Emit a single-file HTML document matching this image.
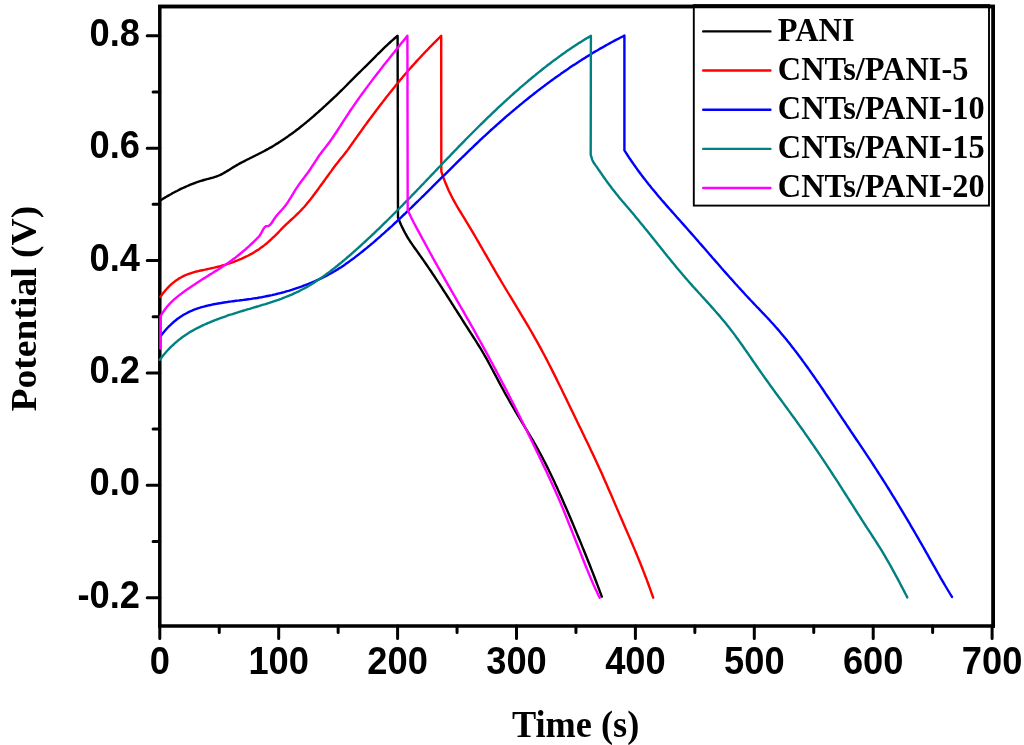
<!DOCTYPE html>
<html><head><meta charset="utf-8"><title>Charge-discharge curves</title>
<style>html,body{margin:0;padding:0;background:#fff;width:1024px;height:745px;overflow:hidden}svg{display:block;will-change:transform}</style>
</head><body>
<svg width="1024" height="745" viewBox="0 0 1024 745"><path d="M159.8 625.9 V6.4 H993.2 V625.9 H159.8" fill="none" stroke="#000" stroke-width="3.5" stroke-linejoin="miter" stroke-linecap="square"/>
<path d="M159.80 625.9 v12.6 M219.25 625.9 v6.7 M278.70 625.9 v12.6 M338.15 625.9 v6.7 M397.60 625.9 v12.6 M457.05 625.9 v6.7 M516.50 625.9 v12.6 M575.95 625.9 v6.7 M635.40 625.9 v12.6 M694.85 625.9 v6.7 M754.30 625.9 v12.6 M813.75 625.9 v6.7 M873.20 625.9 v12.6 M932.65 625.9 v6.7 M992.10 625.9 v12.6 M159.8 597.68 h-12.6 M159.8 541.49 h-6.7 M159.8 485.30 h-12.6 M159.8 429.11 h-6.7 M159.8 372.92 h-12.6 M159.8 316.73 h-6.7 M159.8 260.54 h-12.6 M159.8 204.35 h-6.7 M159.8 148.16 h-12.6 M159.8 91.97 h-6.7 M159.8 35.78 h-12.6" stroke="#000" stroke-width="3" stroke-linecap="round" fill="none"/>
<g font-family="Liberation Sans, sans-serif" font-weight="bold" font-size="38.2" fill="#000"><text transform="translate(159.80,674.1) scale(0.95,1)" text-anchor="middle">0</text><text transform="translate(278.70,674.1) scale(0.95,1)" text-anchor="middle">100</text><text transform="translate(397.60,674.1) scale(0.95,1)" text-anchor="middle">200</text><text transform="translate(516.50,674.1) scale(0.95,1)" text-anchor="middle">300</text><text transform="translate(635.40,674.1) scale(0.95,1)" text-anchor="middle">400</text><text transform="translate(754.30,674.1) scale(0.95,1)" text-anchor="middle">500</text><text transform="translate(873.20,674.1) scale(0.95,1)" text-anchor="middle">600</text><text transform="translate(992.10,674.1) scale(0.95,1)" text-anchor="middle">700</text><text transform="translate(140.0,607.68) scale(0.95,1)" text-anchor="end">-0.2</text><text transform="translate(140.0,495.30) scale(0.95,1)" text-anchor="end">0.0</text><text transform="translate(140.0,382.92) scale(0.95,1)" text-anchor="end">0.2</text><text transform="translate(140.0,270.54) scale(0.95,1)" text-anchor="end">0.4</text><text transform="translate(140.0,158.16) scale(0.95,1)" text-anchor="end">0.6</text><text transform="translate(140.0,45.78) scale(0.95,1)" text-anchor="end">0.8</text></g>
<text transform="translate(575.6,736.6) scale(0.955,1)" text-anchor="middle" font-family="Liberation Serif, serif" font-weight="bold" font-size="38">Time (s)</text>
<text transform="translate(35.8,308.6) rotate(-90) scale(1,0.98)" text-anchor="middle" font-family="Liberation Serif, serif" font-weight="bold" font-size="37.6">Potential (V)</text>
<path d="M160.4 200.4 L161.9 199.5 L163.4 198.5 L164.9 197.6 L166.4 196.8 L167.9 195.9 L169.4 195.0 L170.9 194.2 L172.4 193.3 L173.9 192.5 L175.4 191.7 L176.9 191.0 L178.4 190.2 L179.9 189.4 L181.4 188.7 L182.9 188.0 L184.4 187.3 L185.9 186.6 L187.4 186.0 L188.9 185.3 L190.4 184.7 L191.9 184.1 L193.4 183.5 L194.9 183.0 L196.4 182.4 L197.9 181.9 L199.4 181.4 L200.9 180.9 L202.4 180.5 L203.9 180.0 L205.4 179.6 L206.9 179.2 L208.4 178.8 L209.9 178.4 L211.4 178.0 L212.9 177.6 L214.4 177.1 L215.9 176.7 L217.4 176.1 L218.9 175.5 L220.4 174.9 L221.9 174.1 L223.4 173.3 L224.9 172.4 L226.4 171.5 L227.9 170.6 L229.4 169.7 L230.9 168.7 L232.4 167.8 L233.9 166.9 L235.4 166.0 L236.9 165.1 L238.4 164.3 L239.9 163.4 L241.4 162.6 L242.9 161.8 L244.4 161.1 L245.9 160.3 L247.4 159.5 L248.9 158.8 L250.4 158.0 L251.9 157.3 L253.4 156.5 L254.9 155.8 L256.4 155.0 L257.9 154.3 L259.4 153.5 L260.9 152.8 L262.4 152.0 L263.9 151.2 L265.4 150.4 L266.9 149.6 L268.4 148.8 L269.9 147.9 L271.4 147.1 L272.9 146.2 L274.4 145.3 L275.9 144.3 L277.4 143.4 L278.9 142.4 L280.4 141.5 L281.9 140.5 L283.4 139.5 L284.9 138.5 L286.4 137.4 L287.9 136.4 L289.4 135.3 L290.9 134.3 L292.4 133.2 L293.9 132.1 L295.4 131.0 L296.9 129.8 L298.4 128.7 L299.9 127.5 L301.4 126.3 L302.9 125.1 L304.4 123.9 L305.9 122.7 L307.4 121.4 L308.9 120.2 L310.4 118.9 L311.9 117.6 L313.4 116.3 L314.9 115.0 L316.4 113.7 L317.9 112.4 L319.4 111.0 L320.9 109.7 L322.4 108.3 L323.9 106.9 L325.4 105.6 L326.9 104.2 L328.4 102.8 L329.9 101.4 L331.4 100.0 L332.9 98.6 L334.4 97.2 L335.9 95.8 L337.4 94.3 L338.9 92.9 L340.4 91.4 L341.9 90.0 L343.4 88.5 L344.9 87.0 L346.4 85.5 L347.9 83.9 L349.4 82.4 L350.9 80.9 L352.4 79.4 L353.9 77.9 L355.4 76.4 L356.9 74.9 L358.4 73.4 L359.9 72.0 L361.4 70.5 L362.9 69.0 L364.4 67.5 L365.9 66.1 L367.4 64.6 L368.9 63.1 L370.4 61.6 L371.9 60.1 L373.4 58.6 L374.9 57.1 L376.4 55.5 L377.9 54.0 L379.4 52.6 L380.9 51.1 L382.4 49.6 L383.9 48.1 L385.4 46.7 L386.9 45.3 L388.4 43.9 L389.9 42.5 L391.4 41.1 L392.9 39.8 L394.4 38.5 L395.9 37.2 L397.4 36.0 L397.6 35.8 L398.0 217.5 L399.5 221.2 L401.0 224.7 L402.5 227.9 L404.0 230.9 L405.5 233.7 L407.0 236.3 L408.5 238.8 L410.0 241.2 L411.5 243.4 L413.0 245.6 L414.5 247.7 L416.0 249.8 L417.5 251.9 L419.0 254.0 L420.5 256.1 L422.0 258.2 L423.5 260.4 L425.0 262.5 L426.5 264.7 L428.0 266.9 L429.5 269.1 L431.0 271.3 L432.5 273.6 L434.0 275.8 L435.5 278.1 L437.0 280.4 L438.5 282.6 L440.0 284.9 L441.5 287.2 L443.0 289.6 L444.5 291.9 L446.0 294.2 L447.5 296.5 L449.0 298.9 L450.5 301.2 L452.0 303.6 L453.5 305.9 L455.0 308.3 L456.5 310.7 L458.0 313.0 L459.5 315.4 L461.0 317.7 L462.5 320.1 L464.0 322.5 L465.5 324.8 L467.0 327.2 L468.5 329.5 L470.0 331.8 L471.5 334.2 L473.0 336.5 L474.5 338.9 L476.0 341.2 L477.5 343.6 L479.0 346.0 L480.5 348.4 L482.0 350.9 L483.5 353.5 L485.0 356.1 L486.5 358.7 L488.0 361.4 L489.5 364.2 L491.0 367.0 L492.5 369.8 L494.0 372.6 L495.5 375.4 L497.0 378.3 L498.5 381.1 L500.0 383.9 L501.5 386.7 L503.0 389.4 L504.5 392.2 L506.0 394.9 L507.5 397.5 L509.0 400.2 L510.5 402.8 L512.0 405.4 L513.5 408.0 L515.0 410.6 L516.5 413.1 L518.0 415.6 L519.5 418.1 L521.0 420.6 L522.5 423.1 L524.0 425.6 L525.5 428.1 L527.0 430.6 L528.5 433.1 L530.0 435.6 L531.5 438.1 L533.0 440.7 L534.5 443.3 L536.0 445.9 L537.5 448.6 L539.0 451.3 L540.5 454.0 L542.0 456.8 L543.5 459.7 L545.0 462.6 L546.5 465.6 L548.0 468.6 L549.5 471.7 L551.0 474.8 L552.5 477.9 L554.0 481.1 L555.5 484.4 L557.0 487.6 L558.5 490.9 L560.0 494.3 L561.5 497.6 L563.0 501.0 L564.5 504.4 L566.0 507.8 L567.5 511.3 L569.0 514.8 L570.5 518.3 L572.0 521.8 L573.5 525.4 L575.0 529.0 L576.5 532.6 L578.0 536.2 L579.5 539.8 L581.0 543.4 L582.5 547.1 L584.0 550.8 L585.5 554.5 L587.0 558.2 L588.5 562.0 L590.0 565.8 L591.5 569.6 L593.0 573.4 L594.5 577.3 L596.0 581.2 L597.5 585.2 L599.0 589.1 L600.5 593.2 L601.8 596.7" fill="none" stroke="#000000" stroke-width="2.4" stroke-linejoin="round" stroke-linecap="round"/>
<path d="M160.4 296.8 L161.9 294.7 L163.4 292.8 L164.9 291.0 L166.4 289.2 L167.9 287.6 L169.4 286.1 L170.9 284.7 L172.4 283.4 L173.9 282.1 L175.4 281.0 L176.9 279.9 L178.4 278.9 L179.9 278.0 L181.4 277.2 L182.9 276.4 L184.4 275.7 L185.9 275.0 L187.4 274.4 L188.9 273.8 L190.4 273.3 L191.9 272.8 L193.4 272.3 L194.9 271.9 L196.4 271.5 L197.9 271.2 L199.4 270.8 L200.9 270.5 L202.4 270.2 L203.9 269.9 L205.4 269.6 L206.9 269.2 L208.4 268.9 L209.9 268.6 L211.4 268.3 L212.9 267.9 L214.4 267.6 L215.9 267.2 L217.4 266.8 L218.9 266.5 L220.4 266.1 L221.9 265.6 L223.4 265.2 L224.9 264.8 L226.4 264.3 L227.9 263.9 L229.4 263.4 L230.9 262.9 L232.4 262.3 L233.9 261.8 L235.4 261.2 L236.9 260.7 L238.4 260.0 L239.9 259.4 L241.4 258.8 L242.9 258.1 L244.4 257.4 L245.9 256.7 L247.4 256.0 L248.9 255.2 L250.4 254.4 L251.9 253.6 L253.4 252.7 L254.9 251.8 L256.4 250.8 L257.9 249.9 L259.4 248.9 L260.9 247.8 L262.4 246.7 L263.9 245.6 L265.4 244.4 L266.9 243.2 L268.4 241.9 L269.9 240.5 L271.4 239.2 L272.9 237.7 L274.4 236.3 L275.9 234.8 L277.4 233.3 L278.9 231.8 L280.4 230.2 L281.9 228.7 L283.4 227.2 L284.9 225.7 L286.4 224.2 L287.9 222.8 L289.4 221.4 L290.9 220.0 L292.4 218.6 L293.9 217.3 L295.4 215.9 L296.9 214.4 L298.4 213.0 L299.9 211.5 L301.4 209.9 L302.9 208.3 L304.4 206.7 L305.9 204.9 L307.4 203.1 L308.9 201.3 L310.4 199.4 L311.9 197.5 L313.4 195.5 L314.9 193.5 L316.4 191.5 L317.9 189.5 L319.4 187.4 L320.9 185.3 L322.4 183.3 L323.9 181.2 L325.4 179.1 L326.9 177.0 L328.4 175.0 L329.9 172.9 L331.4 170.9 L332.9 168.8 L334.4 166.8 L335.9 164.8 L337.4 162.9 L338.9 161.0 L340.4 159.1 L341.9 157.2 L343.4 155.4 L344.9 153.5 L346.4 151.6 L347.9 149.6 L349.4 147.5 L350.9 145.4 L352.4 143.3 L353.9 141.1 L355.4 139.0 L356.9 136.9 L358.4 134.8 L359.9 132.7 L361.4 130.6 L362.9 128.5 L364.4 126.4 L365.9 124.4 L367.4 122.3 L368.9 120.3 L370.4 118.3 L371.9 116.2 L373.4 114.2 L374.9 112.2 L376.4 110.2 L377.9 108.3 L379.4 106.3 L380.9 104.3 L382.4 102.4 L383.9 100.4 L385.4 98.5 L386.9 96.6 L388.4 94.7 L389.9 92.8 L391.4 90.9 L392.9 89.0 L394.4 87.2 L395.9 85.3 L397.4 83.5 L398.9 81.7 L400.4 79.8 L401.9 78.1 L403.4 76.3 L404.9 74.5 L406.4 72.8 L407.9 71.0 L409.4 69.3 L410.9 67.6 L412.4 65.9 L413.9 64.2 L415.4 62.6 L416.9 60.9 L418.4 59.3 L419.9 57.7 L421.4 56.1 L422.9 54.5 L424.4 52.9 L425.9 51.3 L427.4 49.8 L428.9 48.2 L430.4 46.7 L431.9 45.1 L433.4 43.6 L434.9 42.1 L436.4 40.6 L437.9 39.1 L439.4 37.6 L440.9 36.1 L441.2 35.8 L441.3 171.3 L442.8 175.8 L444.3 179.9 L445.8 183.7 L447.3 187.3 L448.8 190.7 L450.3 193.8 L451.8 196.8 L453.3 199.7 L454.8 202.4 L456.3 205.0 L457.8 207.6 L459.3 210.1 L460.8 212.5 L462.3 215.0 L463.8 217.4 L465.3 219.8 L466.8 222.3 L468.3 224.8 L469.8 227.3 L471.3 229.8 L472.8 232.4 L474.3 234.9 L475.8 237.5 L477.3 240.1 L478.8 242.7 L480.3 245.3 L481.8 247.9 L483.3 250.5 L484.8 253.1 L486.3 255.7 L487.8 258.3 L489.3 260.9 L490.8 263.5 L492.3 266.1 L493.8 268.7 L495.3 271.3 L496.8 273.8 L498.3 276.4 L499.8 278.9 L501.3 281.5 L502.8 284.0 L504.3 286.5 L505.8 289.0 L507.3 291.5 L508.8 294.0 L510.3 296.4 L511.8 298.9 L513.3 301.4 L514.8 303.9 L516.3 306.3 L517.8 308.8 L519.3 311.3 L520.8 313.8 L522.3 316.3 L523.8 318.8 L525.3 321.3 L526.8 323.8 L528.3 326.4 L529.8 329.0 L531.3 331.5 L532.8 334.2 L534.3 336.8 L535.8 339.5 L537.3 342.1 L538.8 344.8 L540.3 347.6 L541.8 350.4 L543.3 353.2 L544.8 356.0 L546.3 358.9 L547.8 361.8 L549.3 364.7 L550.8 367.6 L552.3 370.6 L553.8 373.6 L555.3 376.6 L556.8 379.6 L558.3 382.7 L559.8 385.7 L561.3 388.8 L562.8 391.9 L564.3 395.0 L565.8 398.1 L567.3 401.2 L568.8 404.3 L570.3 407.4 L571.8 410.5 L573.3 413.6 L574.8 416.7 L576.3 419.8 L577.8 422.9 L579.3 426.0 L580.8 429.1 L582.3 432.2 L583.8 435.3 L585.3 438.4 L586.8 441.5 L588.3 444.6 L589.8 447.7 L591.3 450.9 L592.8 454.1 L594.3 457.3 L595.8 460.5 L597.3 463.7 L598.8 467.0 L600.3 470.3 L601.8 473.6 L603.3 477.0 L604.8 480.4 L606.3 483.8 L607.8 487.2 L609.3 490.7 L610.8 494.1 L612.3 497.6 L613.8 501.1 L615.3 504.6 L616.8 508.1 L618.3 511.6 L619.8 515.1 L621.3 518.5 L622.8 522.0 L624.3 525.5 L625.8 528.9 L627.3 532.4 L628.8 535.9 L630.3 539.3 L631.8 542.8 L633.3 546.4 L634.8 549.9 L636.3 553.5 L637.8 557.1 L639.3 560.8 L640.8 564.5 L642.3 568.3 L643.8 572.1 L645.3 576.0 L646.8 579.9 L648.3 584.0 L649.8 588.1 L651.3 592.3 L652.8 596.5 L653.2 597.7" fill="none" stroke="#ff0000" stroke-width="2.4" stroke-linejoin="round" stroke-linecap="round"/>
<path d="M161.1 335.4 L162.6 333.5 L164.1 331.7 L165.6 330.0 L167.1 328.3 L168.6 326.7 L170.1 325.3 L171.6 323.8 L173.1 322.5 L174.6 321.2 L176.1 320.0 L177.6 318.8 L179.1 317.8 L180.6 316.7 L182.1 315.8 L183.6 314.8 L185.1 314.0 L186.6 313.2 L188.1 312.4 L189.6 311.7 L191.1 311.0 L192.6 310.3 L194.1 309.7 L195.6 309.2 L197.1 308.6 L198.6 308.1 L200.1 307.7 L201.6 307.2 L203.1 306.8 L204.6 306.4 L206.1 306.0 L207.6 305.6 L209.1 305.3 L210.6 305.0 L212.1 304.6 L213.6 304.3 L215.1 304.0 L216.6 303.8 L218.1 303.5 L219.6 303.2 L221.1 303.0 L222.6 302.7 L224.1 302.5 L225.6 302.3 L227.1 302.1 L228.6 301.8 L230.1 301.6 L231.6 301.4 L233.1 301.2 L234.6 301.0 L236.1 300.8 L237.6 300.6 L239.1 300.5 L240.6 300.3 L242.1 300.1 L243.6 299.9 L245.1 299.7 L246.6 299.5 L248.1 299.3 L249.6 299.1 L251.1 298.9 L252.6 298.6 L254.1 298.4 L255.6 298.2 L257.1 298.0 L258.6 297.7 L260.1 297.4 L261.6 297.2 L263.1 296.9 L264.6 296.6 L266.1 296.3 L267.6 296.0 L269.1 295.7 L270.6 295.4 L272.1 295.1 L273.6 294.7 L275.1 294.4 L276.6 294.0 L278.1 293.6 L279.6 293.3 L281.1 292.9 L282.6 292.5 L284.1 292.1 L285.6 291.6 L287.1 291.2 L288.6 290.8 L290.1 290.3 L291.6 289.9 L293.1 289.4 L294.6 288.9 L296.1 288.4 L297.6 287.9 L299.1 287.4 L300.6 286.8 L302.1 286.3 L303.6 285.7 L305.1 285.2 L306.6 284.6 L308.1 284.0 L309.6 283.4 L311.1 282.8 L312.6 282.2 L314.1 281.5 L315.6 280.9 L317.1 280.2 L318.6 279.5 L320.1 278.8 L321.6 278.1 L323.1 277.4 L324.6 276.6 L326.1 275.9 L327.6 275.1 L329.1 274.3 L330.6 273.5 L332.1 272.6 L333.6 271.8 L335.1 270.9 L336.6 270.0 L338.1 269.1 L339.6 268.1 L341.1 267.2 L342.6 266.2 L344.1 265.2 L345.6 264.1 L347.1 263.1 L348.6 262.0 L350.1 260.9 L351.6 259.8 L353.1 258.7 L354.6 257.6 L356.1 256.4 L357.6 255.3 L359.1 254.1 L360.6 252.9 L362.1 251.7 L363.6 250.5 L365.1 249.3 L366.6 248.1 L368.1 246.8 L369.6 245.6 L371.1 244.3 L372.6 243.1 L374.1 241.8 L375.6 240.5 L377.1 239.2 L378.6 237.9 L380.1 236.6 L381.6 235.2 L383.1 233.9 L384.6 232.6 L386.1 231.2 L387.6 229.9 L389.1 228.5 L390.6 227.1 L392.1 225.8 L393.6 224.4 L395.1 223.0 L396.6 221.6 L398.1 220.2 L399.6 218.8 L401.1 217.4 L402.6 215.9 L404.1 214.5 L405.6 213.1 L407.1 211.6 L408.6 210.2 L410.1 208.7 L411.6 207.3 L413.1 205.8 L414.6 204.4 L416.1 202.9 L417.6 201.5 L419.1 200.0 L420.6 198.5 L422.1 197.0 L423.6 195.6 L425.1 194.1 L426.6 192.6 L428.1 191.1 L429.6 189.6 L431.1 188.2 L432.6 186.7 L434.1 185.2 L435.6 183.7 L437.1 182.2 L438.6 180.7 L440.1 179.2 L441.6 177.7 L443.1 176.2 L444.6 174.8 L446.1 173.3 L447.6 171.8 L449.1 170.3 L450.6 168.8 L452.1 167.3 L453.6 165.8 L455.1 164.4 L456.6 162.9 L458.1 161.4 L459.6 159.9 L461.1 158.5 L462.6 157.0 L464.1 155.6 L465.6 154.1 L467.1 152.6 L468.6 151.2 L470.1 149.7 L471.6 148.3 L473.1 146.9 L474.6 145.4 L476.1 144.0 L477.6 142.6 L479.1 141.2 L480.6 139.7 L482.1 138.3 L483.6 136.9 L485.1 135.6 L486.6 134.2 L488.1 132.8 L489.6 131.4 L491.1 130.0 L492.6 128.7 L494.1 127.3 L495.6 126.0 L497.1 124.6 L498.6 123.3 L500.1 122.0 L501.6 120.7 L503.1 119.3 L504.6 118.0 L506.1 116.7 L507.6 115.4 L509.1 114.2 L510.6 112.9 L512.1 111.6 L513.6 110.3 L515.1 109.1 L516.6 107.8 L518.1 106.6 L519.6 105.3 L521.1 104.1 L522.6 102.9 L524.1 101.6 L525.6 100.4 L527.1 99.2 L528.6 98.0 L530.1 96.8 L531.6 95.6 L533.1 94.5 L534.6 93.3 L536.1 92.1 L537.6 90.9 L539.1 89.8 L540.6 88.6 L542.1 87.5 L543.6 86.4 L545.1 85.2 L546.6 84.1 L548.1 83.0 L549.6 81.9 L551.1 80.8 L552.6 79.7 L554.1 78.6 L555.6 77.5 L557.1 76.5 L558.6 75.4 L560.1 74.4 L561.6 73.3 L563.1 72.3 L564.6 71.2 L566.1 70.2 L567.6 69.2 L569.1 68.1 L570.6 67.1 L572.1 66.1 L573.6 65.1 L575.1 64.2 L576.6 63.2 L578.1 62.2 L579.6 61.2 L581.1 60.3 L582.6 59.3 L584.1 58.4 L585.6 57.4 L587.1 56.5 L588.6 55.6 L590.1 54.7 L591.6 53.7 L593.1 52.8 L594.6 51.9 L596.1 51.0 L597.6 50.2 L599.1 49.3 L600.6 48.4 L602.1 47.6 L603.6 46.7 L605.1 45.9 L606.6 45.0 L608.1 44.2 L609.6 43.4 L611.1 42.5 L612.6 41.7 L614.1 40.9 L615.6 40.1 L617.1 39.3 L618.6 38.6 L620.1 37.8 L621.6 37.0 L623.1 36.3 L624.4 35.6 L624.4 150.4 L625.9 152.7 L627.4 155.0 L628.9 157.3 L630.4 159.5 L631.9 161.7 L633.4 163.9 L634.9 166.0 L636.4 168.1 L637.9 170.2 L639.4 172.2 L640.9 174.3 L642.4 176.2 L643.9 178.2 L645.4 180.1 L646.9 182.1 L648.4 184.0 L649.9 185.8 L651.4 187.7 L652.9 189.5 L654.4 191.3 L655.9 193.1 L657.4 194.9 L658.9 196.7 L660.4 198.4 L661.9 200.2 L663.4 201.9 L664.9 203.6 L666.4 205.4 L667.9 207.1 L669.4 208.8 L670.9 210.4 L672.4 212.1 L673.9 213.8 L675.4 215.5 L676.9 217.2 L678.4 218.9 L679.9 220.5 L681.4 222.2 L682.9 223.9 L684.4 225.6 L685.9 227.3 L687.4 229.0 L688.9 230.7 L690.4 232.4 L691.9 234.1 L693.4 235.8 L694.9 237.5 L696.4 239.2 L697.9 240.9 L699.4 242.7 L700.9 244.4 L702.4 246.1 L703.9 247.8 L705.4 249.5 L706.9 251.3 L708.4 253.0 L709.9 254.7 L711.4 256.4 L712.9 258.2 L714.4 259.9 L715.9 261.6 L717.4 263.3 L718.9 265.0 L720.4 266.7 L721.9 268.5 L723.4 270.2 L724.9 271.9 L726.4 273.6 L727.9 275.3 L729.4 277.0 L730.9 278.6 L732.4 280.3 L733.9 282.0 L735.4 283.7 L736.9 285.3 L738.4 287.0 L739.9 288.6 L741.4 290.3 L742.9 291.9 L744.4 293.5 L745.9 295.2 L747.4 296.8 L748.9 298.4 L750.4 300.0 L751.9 301.5 L753.4 303.1 L754.9 304.7 L756.4 306.3 L757.9 307.8 L759.4 309.4 L760.9 311.0 L762.4 312.6 L763.9 314.1 L765.4 315.7 L766.9 317.3 L768.4 318.9 L769.9 320.5 L771.4 322.2 L772.9 323.8 L774.4 325.5 L775.9 327.2 L777.4 328.9 L778.9 330.6 L780.4 332.4 L781.9 334.2 L783.4 336.0 L784.9 337.8 L786.4 339.6 L787.9 341.5 L789.4 343.3 L790.9 345.2 L792.4 347.2 L793.9 349.1 L795.4 351.1 L796.9 353.0 L798.4 355.0 L799.9 357.0 L801.4 359.0 L802.9 361.1 L804.4 363.1 L805.9 365.2 L807.4 367.3 L808.9 369.4 L810.4 371.5 L811.9 373.6 L813.4 375.8 L814.9 377.9 L816.4 380.1 L817.9 382.3 L819.4 384.4 L820.9 386.6 L822.4 388.8 L823.9 391.0 L825.4 393.3 L826.9 395.5 L828.4 397.7 L829.9 399.9 L831.4 402.2 L832.9 404.4 L834.4 406.6 L835.9 408.9 L837.4 411.1 L838.9 413.4 L840.4 415.6 L841.9 417.9 L843.4 420.1 L844.9 422.3 L846.4 424.6 L847.9 426.8 L849.4 429.0 L850.9 431.3 L852.4 433.5 L853.9 435.7 L855.4 438.0 L856.9 440.2 L858.4 442.4 L859.9 444.7 L861.4 446.9 L862.9 449.1 L864.4 451.4 L865.9 453.6 L867.4 455.9 L868.9 458.2 L870.4 460.4 L871.9 462.7 L873.4 465.0 L874.9 467.3 L876.4 469.6 L877.9 472.0 L879.4 474.3 L880.9 476.6 L882.4 479.0 L883.9 481.4 L885.4 483.7 L886.9 486.1 L888.4 488.5 L889.9 490.9 L891.4 493.4 L892.9 495.8 L894.4 498.2 L895.9 500.7 L897.4 503.2 L898.9 505.6 L900.4 508.1 L901.9 510.6 L903.4 513.1 L904.9 515.6 L906.4 518.1 L907.9 520.7 L909.4 523.2 L910.9 525.8 L912.4 528.3 L913.9 530.9 L915.4 533.5 L916.9 536.1 L918.4 538.7 L919.9 541.3 L921.4 543.9 L922.9 546.5 L924.4 549.2 L925.9 551.8 L927.4 554.4 L928.9 557.1 L930.4 559.8 L931.9 562.4 L933.4 565.1 L934.9 567.7 L936.4 570.4 L937.9 573.0 L939.4 575.6 L940.9 578.3 L942.4 580.8 L943.9 583.4 L945.4 586.0 L946.9 588.5 L948.4 591.0 L949.9 593.5 L951.4 595.9 L952.0 596.9" fill="none" stroke="#0000ff" stroke-width="2.4" stroke-linejoin="round" stroke-linecap="round"/>
<path d="M159.7 359.8 L161.2 357.9 L162.7 356.0 L164.2 354.2 L165.7 352.5 L167.2 350.8 L168.7 349.2 L170.2 347.7 L171.7 346.2 L173.2 344.8 L174.7 343.4 L176.2 342.1 L177.7 340.8 L179.2 339.6 L180.7 338.5 L182.2 337.3 L183.7 336.3 L185.2 335.2 L186.7 334.2 L188.2 333.3 L189.7 332.3 L191.2 331.4 L192.7 330.6 L194.2 329.7 L195.7 328.9 L197.2 328.2 L198.7 327.4 L200.2 326.7 L201.7 325.9 L203.2 325.2 L204.7 324.5 L206.2 323.9 L207.7 323.2 L209.2 322.6 L210.7 321.9 L212.2 321.3 L213.7 320.7 L215.2 320.1 L216.7 319.5 L218.2 319.0 L219.7 318.4 L221.2 317.8 L222.7 317.3 L224.2 316.8 L225.7 316.3 L227.2 315.7 L228.7 315.2 L230.2 314.7 L231.7 314.3 L233.2 313.8 L234.7 313.3 L236.2 312.8 L237.7 312.4 L239.2 311.9 L240.7 311.4 L242.2 311.0 L243.7 310.5 L245.2 310.1 L246.7 309.6 L248.2 309.2 L249.7 308.8 L251.2 308.3 L252.7 307.9 L254.2 307.4 L255.7 307.0 L257.2 306.5 L258.7 306.1 L260.2 305.6 L261.7 305.2 L263.2 304.7 L264.7 304.3 L266.2 303.8 L267.7 303.3 L269.2 302.9 L270.7 302.4 L272.2 301.9 L273.7 301.4 L275.2 300.9 L276.7 300.4 L278.2 299.9 L279.7 299.3 L281.2 298.8 L282.7 298.2 L284.2 297.6 L285.7 297.0 L287.2 296.4 L288.7 295.8 L290.2 295.2 L291.7 294.6 L293.2 293.9 L294.7 293.2 L296.2 292.5 L297.7 291.8 L299.2 291.1 L300.7 290.3 L302.2 289.5 L303.7 288.7 L305.2 287.9 L306.7 287.1 L308.2 286.2 L309.7 285.3 L311.2 284.4 L312.7 283.5 L314.2 282.6 L315.7 281.6 L317.2 280.6 L318.7 279.6 L320.2 278.6 L321.7 277.5 L323.2 276.5 L324.7 275.4 L326.2 274.3 L327.7 273.2 L329.2 272.1 L330.7 271.0 L332.2 269.8 L333.7 268.6 L335.2 267.5 L336.7 266.3 L338.2 265.0 L339.7 263.8 L341.2 262.6 L342.7 261.3 L344.2 260.1 L345.7 258.8 L347.2 257.5 L348.7 256.3 L350.2 255.0 L351.7 253.6 L353.2 252.3 L354.7 251.0 L356.2 249.7 L357.7 248.3 L359.2 247.0 L360.7 245.6 L362.2 244.2 L363.7 242.9 L365.2 241.5 L366.7 240.1 L368.2 238.7 L369.7 237.3 L371.2 235.9 L372.7 234.5 L374.2 233.1 L375.7 231.6 L377.2 230.2 L378.7 228.8 L380.2 227.3 L381.7 225.9 L383.2 224.4 L384.7 222.9 L386.2 221.5 L387.7 220.0 L389.2 218.5 L390.7 217.0 L392.2 215.5 L393.7 214.0 L395.2 212.5 L396.7 211.0 L398.2 209.5 L399.7 208.0 L401.2 206.5 L402.7 205.0 L404.2 203.4 L405.7 201.9 L407.2 200.4 L408.7 198.8 L410.2 197.3 L411.7 195.7 L413.2 194.2 L414.7 192.6 L416.2 191.1 L417.7 189.5 L419.2 188.0 L420.7 186.4 L422.2 184.8 L423.7 183.3 L425.2 181.7 L426.7 180.1 L428.2 178.5 L429.7 177.0 L431.2 175.4 L432.7 173.8 L434.2 172.3 L435.7 170.7 L437.2 169.1 L438.7 167.5 L440.2 166.0 L441.7 164.4 L443.2 162.8 L444.7 161.2 L446.2 159.7 L447.7 158.1 L449.2 156.6 L450.7 155.0 L452.2 153.4 L453.7 151.9 L455.2 150.3 L456.7 148.8 L458.2 147.2 L459.7 145.7 L461.2 144.1 L462.7 142.6 L464.2 141.1 L465.7 139.5 L467.2 138.0 L468.7 136.5 L470.2 135.0 L471.7 133.5 L473.2 132.0 L474.7 130.5 L476.2 129.0 L477.7 127.5 L479.2 126.0 L480.7 124.5 L482.2 123.1 L483.7 121.6 L485.2 120.1 L486.7 118.7 L488.2 117.2 L489.7 115.8 L491.2 114.3 L492.7 112.9 L494.2 111.5 L495.7 110.1 L497.2 108.6 L498.7 107.2 L500.2 105.8 L501.7 104.4 L503.2 103.1 L504.7 101.7 L506.2 100.3 L507.7 98.9 L509.2 97.6 L510.7 96.2 L512.2 94.9 L513.7 93.5 L515.2 92.2 L516.7 90.9 L518.2 89.6 L519.7 88.2 L521.2 86.9 L522.7 85.6 L524.2 84.4 L525.7 83.1 L527.2 81.8 L528.7 80.5 L530.2 79.3 L531.7 78.0 L533.2 76.8 L534.7 75.6 L536.2 74.3 L537.7 73.1 L539.2 71.9 L540.7 70.7 L542.2 69.5 L543.7 68.3 L545.2 67.1 L546.7 66.0 L548.2 64.8 L549.7 63.7 L551.2 62.5 L552.7 61.4 L554.2 60.3 L555.7 59.2 L557.2 58.1 L558.7 57.0 L560.2 55.9 L561.7 54.8 L563.2 53.7 L564.7 52.7 L566.2 51.6 L567.7 50.6 L569.2 49.6 L570.7 48.5 L572.2 47.5 L573.7 46.5 L575.2 45.5 L576.7 44.6 L578.2 43.6 L579.7 42.6 L581.2 41.7 L582.7 40.7 L584.2 39.8 L585.7 38.9 L587.2 38.0 L588.7 37.1 L590.2 36.2 L590.9 35.8 L590.7 154.7 L592.2 159.7 L593.7 162.7 L595.2 164.9 L596.7 166.9 L598.2 169.1 L599.7 171.2 L601.2 173.4 L602.7 175.6 L604.2 177.8 L605.7 179.9 L607.2 182.0 L608.7 184.0 L610.2 186.0 L611.7 188.0 L613.2 189.9 L614.7 191.8 L616.2 193.7 L617.7 195.5 L619.2 197.4 L620.7 199.2 L622.2 201.0 L623.7 202.7 L625.2 204.5 L626.7 206.3 L628.2 208.0 L629.7 209.8 L631.2 211.6 L632.7 213.3 L634.2 215.1 L635.7 216.9 L637.2 218.7 L638.7 220.5 L640.2 222.4 L641.7 224.2 L643.2 226.0 L644.7 227.9 L646.2 229.7 L647.7 231.6 L649.2 233.5 L650.7 235.3 L652.2 237.2 L653.7 239.1 L655.2 240.9 L656.7 242.8 L658.2 244.7 L659.7 246.6 L661.2 248.4 L662.7 250.3 L664.2 252.2 L665.7 254.0 L667.2 255.9 L668.7 257.7 L670.2 259.6 L671.7 261.4 L673.2 263.3 L674.7 265.1 L676.2 266.9 L677.7 268.7 L679.2 270.5 L680.7 272.3 L682.2 274.1 L683.7 275.8 L685.2 277.6 L686.7 279.3 L688.2 281.0 L689.7 282.7 L691.2 284.4 L692.7 286.1 L694.2 287.7 L695.7 289.4 L697.2 291.0 L698.7 292.7 L700.2 294.3 L701.7 296.0 L703.2 297.6 L704.7 299.3 L706.2 300.9 L707.7 302.6 L709.2 304.2 L710.7 305.9 L712.2 307.6 L713.7 309.3 L715.2 311.0 L716.7 312.7 L718.2 314.4 L719.7 316.1 L721.2 317.9 L722.7 319.7 L724.2 321.5 L725.7 323.3 L727.2 325.2 L728.7 327.1 L730.2 329.0 L731.7 330.9 L733.2 332.9 L734.7 334.9 L736.2 337.0 L737.7 339.0 L739.2 341.1 L740.7 343.2 L742.2 345.3 L743.7 347.5 L745.2 349.6 L746.7 351.8 L748.2 353.9 L749.7 356.1 L751.2 358.3 L752.7 360.5 L754.2 362.6 L755.7 364.8 L757.2 367.0 L758.7 369.1 L760.2 371.3 L761.7 373.4 L763.2 375.5 L764.7 377.6 L766.2 379.7 L767.7 381.8 L769.2 383.9 L770.7 386.0 L772.2 388.0 L773.7 390.1 L775.2 392.2 L776.7 394.2 L778.2 396.3 L779.7 398.3 L781.2 400.3 L782.7 402.4 L784.2 404.4 L785.7 406.5 L787.2 408.5 L788.7 410.6 L790.2 412.6 L791.7 414.7 L793.2 416.7 L794.7 418.8 L796.2 420.9 L797.7 423.0 L799.2 425.1 L800.7 427.2 L802.2 429.3 L803.7 431.4 L805.2 433.6 L806.7 435.7 L808.2 437.9 L809.7 440.0 L811.2 442.2 L812.7 444.4 L814.2 446.5 L815.7 448.7 L817.2 450.9 L818.7 453.2 L820.2 455.4 L821.7 457.6 L823.2 459.9 L824.7 462.1 L826.2 464.4 L827.7 466.6 L829.2 468.9 L830.7 471.2 L832.2 473.5 L833.7 475.8 L835.2 478.1 L836.7 480.4 L838.2 482.7 L839.7 485.1 L841.2 487.4 L842.7 489.8 L844.2 492.1 L845.7 494.5 L847.2 496.8 L848.7 499.2 L850.2 501.5 L851.7 503.9 L853.2 506.2 L854.7 508.6 L856.2 511.0 L857.7 513.3 L859.2 515.7 L860.7 518.0 L862.2 520.3 L863.7 522.7 L865.2 525.0 L866.7 527.3 L868.2 529.6 L869.7 531.9 L871.2 534.2 L872.7 536.5 L874.2 538.8 L875.7 541.1 L877.2 543.5 L878.7 545.8 L880.2 548.2 L881.7 550.7 L883.2 553.2 L884.7 555.7 L886.2 558.3 L887.7 560.9 L889.2 563.5 L890.7 566.1 L892.2 568.8 L893.7 571.6 L895.2 574.3 L896.7 577.1 L898.2 579.9 L899.7 582.7 L901.2 585.6 L902.7 588.5 L904.2 591.4 L905.7 594.3 L907.2 597.3 L907.3 597.5" fill="none" stroke="#008080" stroke-width="2.4" stroke-linejoin="round" stroke-linecap="round"/>
<path d="M160.4 348.6 L160.4 316.3 L161.9 313.9 L163.4 311.6 L164.9 309.5 L166.4 307.6 L167.9 305.8 L169.4 304.1 L170.9 302.5 L172.4 301.1 L173.9 299.7 L175.4 298.4 L176.9 297.1 L178.4 295.9 L179.9 294.8 L181.4 293.6 L182.9 292.5 L184.4 291.4 L185.9 290.3 L187.4 289.3 L188.9 288.2 L190.4 287.2 L191.9 286.2 L193.4 285.2 L194.9 284.2 L196.4 283.2 L197.9 282.2 L199.4 281.2 L200.9 280.3 L202.4 279.3 L203.9 278.4 L205.4 277.5 L206.9 276.5 L208.4 275.6 L209.9 274.6 L211.4 273.7 L212.9 272.8 L214.4 271.8 L215.9 270.9 L217.4 269.9 L218.9 269.0 L220.4 268.0 L221.9 267.1 L223.4 266.1 L224.9 265.1 L226.4 264.1 L227.9 263.0 L229.4 262.0 L230.9 260.9 L232.4 259.8 L233.9 258.7 L235.4 257.6 L236.9 256.4 L238.4 255.2 L239.9 254.0 L241.4 252.8 L242.9 251.5 L244.4 250.3 L245.9 249.0 L247.4 247.6 L248.9 246.3 L250.4 244.9 L251.9 243.5 L253.4 242.1 L254.9 240.7 L256.4 239.2 L257.9 237.7 L259.4 236.0 L260.9 233.8 L262.4 230.9 L263.9 228.2 L265.4 226.5 L266.9 226.1 L268.4 226.1 L269.9 225.1 L271.4 223.2 L272.9 221.0 L274.4 218.7 L275.9 216.6 L277.4 214.7 L278.9 213.0 L280.4 211.4 L281.9 209.8 L283.4 208.1 L284.9 206.3 L286.4 204.3 L287.9 202.1 L289.4 199.7 L290.9 197.3 L292.4 194.8 L293.9 192.3 L295.4 189.9 L296.9 187.6 L298.4 185.4 L299.9 183.3 L301.4 181.2 L302.9 179.2 L304.4 177.3 L305.9 175.3 L307.4 173.3 L308.9 171.2 L310.4 169.0 L311.9 166.7 L313.4 164.4 L314.9 162.1 L316.4 159.8 L317.9 157.5 L319.4 155.3 L320.9 153.3 L322.4 151.2 L323.9 149.3 L325.4 147.4 L326.9 145.5 L328.4 143.5 L329.9 141.5 L331.4 139.4 L332.9 137.2 L334.4 135.0 L335.9 132.8 L337.4 130.5 L338.9 128.2 L340.4 125.8 L341.9 123.5 L343.4 121.2 L344.9 118.9 L346.4 116.6 L347.9 114.3 L349.4 112.0 L350.9 109.8 L352.4 107.6 L353.9 105.4 L355.4 103.3 L356.9 101.1 L358.4 99.0 L359.9 96.9 L361.4 94.8 L362.9 92.7 L364.4 90.7 L365.9 88.6 L367.4 86.6 L368.9 84.6 L370.4 82.6 L371.9 80.6 L373.4 78.6 L374.9 76.7 L376.4 74.7 L377.9 72.8 L379.4 70.9 L380.9 68.9 L382.4 67.0 L383.9 65.1 L385.4 63.2 L386.9 61.3 L388.4 59.5 L389.9 57.6 L391.4 55.7 L392.9 53.8 L394.4 52.0 L395.9 50.1 L397.4 48.2 L398.9 46.4 L400.4 44.5 L401.9 42.6 L403.4 40.8 L404.9 38.9 L406.4 37.1 L407.4 35.8 L407.7 209.8 L409.2 213.3 L410.7 216.5 L412.2 219.5 L413.7 222.5 L415.2 225.3 L416.7 228.1 L418.2 230.8 L419.7 233.6 L421.2 236.4 L422.7 239.2 L424.2 241.9 L425.7 244.7 L427.2 247.5 L428.7 250.3 L430.2 253.0 L431.7 255.7 L433.2 258.5 L434.7 261.2 L436.2 263.9 L437.7 266.5 L439.2 269.2 L440.7 271.9 L442.2 274.5 L443.7 277.2 L445.2 279.8 L446.7 282.4 L448.2 285.1 L449.7 287.7 L451.2 290.3 L452.7 292.9 L454.2 295.5 L455.7 298.2 L457.2 300.8 L458.7 303.4 L460.2 306.0 L461.7 308.6 L463.2 311.2 L464.7 313.8 L466.2 316.5 L467.7 319.1 L469.2 321.7 L470.7 324.4 L472.2 327.0 L473.7 329.7 L475.2 332.4 L476.7 335.1 L478.2 337.8 L479.7 340.5 L481.2 343.2 L482.7 345.9 L484.2 348.6 L485.7 351.4 L487.2 354.1 L488.7 356.9 L490.2 359.7 L491.7 362.5 L493.2 365.3 L494.7 368.1 L496.2 370.9 L497.7 373.7 L499.2 376.6 L500.7 379.4 L502.2 382.3 L503.7 385.1 L505.2 388.0 L506.7 390.9 L508.2 393.8 L509.7 396.7 L511.2 399.7 L512.7 402.6 L514.2 405.5 L515.7 408.5 L517.2 411.5 L518.7 414.5 L520.2 417.5 L521.7 420.5 L523.2 423.5 L524.7 426.5 L526.2 429.5 L527.7 432.6 L529.2 435.7 L530.7 438.7 L532.2 441.8 L533.7 444.9 L535.2 448.0 L536.7 451.2 L538.2 454.3 L539.7 457.4 L541.2 460.6 L542.7 463.8 L544.2 466.9 L545.7 470.1 L547.2 473.3 L548.7 476.6 L550.2 479.8 L551.7 483.0 L553.2 486.3 L554.7 489.6 L556.2 492.9 L557.7 496.2 L559.2 499.7 L560.7 503.2 L562.2 506.9 L563.7 510.5 L565.2 514.3 L566.7 518.0 L568.2 521.8 L569.7 525.5 L571.2 529.3 L572.7 533.1 L574.2 536.9 L575.7 540.7 L577.2 544.5 L578.7 548.3 L580.2 552.1 L581.7 555.9 L583.2 559.7 L584.7 563.5 L586.2 567.2 L587.7 570.9 L589.2 574.6 L590.7 578.1 L592.2 581.6 L593.7 585.1 L595.2 588.4 L596.7 591.6 L598.2 594.8 L599.7 597.8 L599.7 597.8" fill="none" stroke="#ff00ff" stroke-width="2.4" stroke-linejoin="round" stroke-linecap="round"/>
<rect x="693.8" y="5.1" width="295.2" height="200.5" fill="#fff" stroke="#000" stroke-width="1.9"/>
<path d="M703.2 31.40 H770.4" stroke="#000000" stroke-width="2.4" stroke-linecap="round"/><text transform="translate(777.8,40.70) scale(0.958,1)" font-family="Liberation Serif, serif" font-weight="bold" font-size="33.8">PANI</text><path d="M703.2 70.56 H770.4" stroke="#ff0000" stroke-width="2.4" stroke-linecap="round"/><text transform="translate(777.8,79.86) scale(0.958,1)" font-family="Liberation Serif, serif" font-weight="bold" font-size="33.8">CNTs/PANI-5</text><path d="M703.2 109.72 H770.4" stroke="#0000ff" stroke-width="2.4" stroke-linecap="round"/><text transform="translate(777.8,119.02) scale(0.958,1)" font-family="Liberation Serif, serif" font-weight="bold" font-size="33.8">CNTs/PANI-10</text><path d="M703.2 148.88 H770.4" stroke="#008080" stroke-width="2.4" stroke-linecap="round"/><text transform="translate(777.8,158.18) scale(0.958,1)" font-family="Liberation Serif, serif" font-weight="bold" font-size="33.8">CNTs/PANI-15</text><path d="M703.2 188.04 H770.4" stroke="#ff00ff" stroke-width="2.4" stroke-linecap="round"/><text transform="translate(777.8,197.34) scale(0.958,1)" font-family="Liberation Serif, serif" font-weight="bold" font-size="33.8">CNTs/PANI-20</text>
<path d="M159.8 6.4 H993.2 V625.9" fill="none" stroke="#000" stroke-width="3.5" stroke-linejoin="miter" stroke-linecap="square"/></svg>
</body></html>
